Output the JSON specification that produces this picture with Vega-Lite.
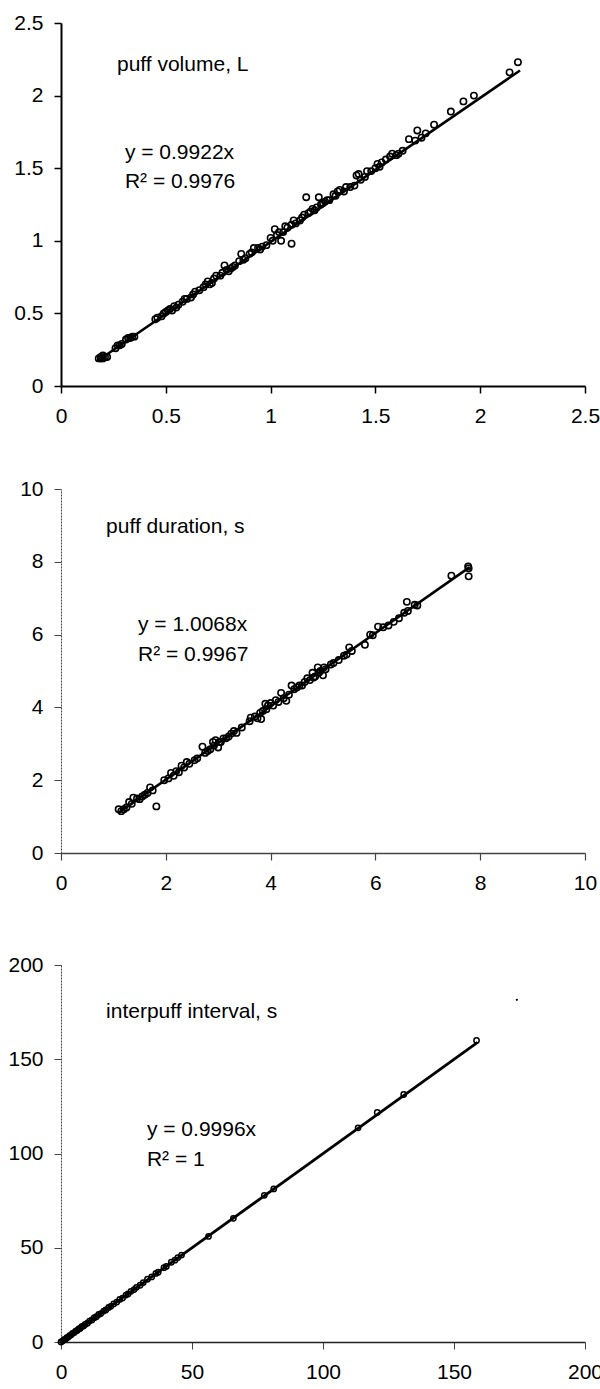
{
  "$schema": "https://vega.github.io/schema/vega-lite/v6.json",
  "background": "white",
  "padding": {"top": 12, "left": 7, "right": 0, "bottom": 5},
  "config": {
    "view": {"stroke": null},
    "font": "Liberation Sans",
    "axis": {
      "grid": false,
      "title": null,
      "format": "~r",
      "domainColor": "black",
      "domainWidth": 2,
      "tickColor": "black",
      "tickWidth": 1.5,
      "tickSize": 7,
      "labelFont": "Liberation Sans",
      "labelFontSize": 21,
      "labelColor": "black",
      "labelFlush": false,
      "labelOverlap": false,
      "labelBound": false
    },
    "axisX": {"labelPadding": 12},
    "axisY": {"labelPadding": 11},
    "text": {"font": "Liberation Sans", "fontSize": 21, "color": "black", "align": "left", "baseline": "middle"}
  },
  "bounds": "flush",
  "spacing": 103,
  "vconcat": [
    {
      "width": 524,
      "height": 363,
      "layer": [
        {
          "data": {"values": [{"x": 0.175, "y": 0.174}, {"x": 2.19, "y": 2.173}]},
          "mark": {"type": "line", "color": "black", "strokeWidth": 2.6},
          "encoding": {
            "x": {"field": "x", "type": "quantitative", "scale": {"domain": [0, 2.5], "nice": false}, "axis": {"values": [0, 0.5, 1, 1.5, 2, 2.5], "format": "~r"}},
            "y": {"field": "y", "type": "quantitative", "scale": {"domain": [0, 2.5], "nice": false}, "axis": {"values": [0, 0.5, 1, 1.5, 2, 2.5], "format": "~r"}}
          }
        },
        {
          "data": {"values": [
            {"x":0.18,"y":0.19},{"x":0.19,"y":0.19},{"x":0.2,"y":0.19},{"x":0.19,"y":0.2},{"x":0.21,"y":0.2},{"x":0.22,"y":0.2},{"x":0.2,"y":0.21},
            {"x":0.26,"y":0.26},{"x":0.27,"y":0.28},{"x":0.28,"y":0.28},{"x":0.29,"y":0.29},{"x":0.31,"y":0.32},{"x":0.32,"y":0.33},{"x":0.33,"y":0.33},{"x":0.34,"y":0.34},{"x":0.35,"y":0.34},
            {"x":0.45,"y":0.46},{"x":0.46,"y":0.47},{"x":0.48,"y":0.48},{"x":0.49,"y":0.5},{"x":0.5,"y":0.51},{"x":0.51,"y":0.52},{"x":0.52,"y":0.53},{"x":0.53,"y":0.52},{"x":0.54,"y":0.55},{"x":0.55,"y":0.54},{"x":0.56,"y":0.56},
            {"x":0.58,"y":0.58},{"x":0.59,"y":0.6},{"x":0.6,"y":0.6},{"x":0.62,"y":0.61},{"x":0.63,"y":0.63},{"x":0.64,"y":0.65},{"x":0.66,"y":0.66},{"x":0.68,"y":0.68},{"x":0.69,"y":0.7},{"x":0.7,"y":0.72},{"x":0.71,"y":0.7},{"x":0.72,"y":0.71},{"x":0.73,"y":0.74},{"x":0.74,"y":0.76},{"x":0.76,"y":0.76},{"x":0.77,"y":0.78},{"x":0.78,"y":0.83},{"x":0.79,"y":0.8},{"x":0.8,"y":0.79},{"x":0.81,"y":0.81},{"x":0.82,"y":0.82},{"x":0.83,"y":0.83},{"x":0.85,"y":0.86},{"x":0.86,"y":0.91},{"x":0.87,"y":0.87},{"x":0.88,"y":0.88},{"x":0.9,"y":0.91},{"x":0.91,"y":0.92},{"x":0.92,"y":0.95},{"x":0.94,"y":0.95},{"x":0.95,"y":0.94},{"x":0.96,"y":0.96},{"x":0.98,"y":0.97},
            {"x":1.0,"y":1.02},{"x":1.01,"y":1.0},{"x":1.02,"y":1.08},{"x":1.03,"y":1.04},{"x":1.04,"y":1.06},{"x":1.05,"y":1.0},{"x":1.06,"y":1.06},{"x":1.07,"y":1.1},{"x":1.08,"y":1.09},{"x":1.1,"y":0.98},{"x":1.1,"y":1.11},{"x":1.11,"y":1.14},{"x":1.12,"y":1.12},{"x":1.14,"y":1.14},{"x":1.15,"y":1.16},{"x":1.16,"y":1.18},{"x":1.17,"y":1.3},{"x":1.18,"y":1.19},{"x":1.19,"y":1.2},{"x":1.2,"y":1.22},{"x":1.21,"y":1.21},{"x":1.22,"y":1.23},{"x":1.23,"y":1.3},{"x":1.24,"y":1.25},{"x":1.25,"y":1.26},{"x":1.26,"y":1.27},{"x":1.27,"y":1.28},{"x":1.28,"y":1.28},{"x":1.3,"y":1.32},{"x":1.31,"y":1.31},{"x":1.32,"y":1.34},{"x":1.33,"y":1.35},{"x":1.35,"y":1.34},{"x":1.36,"y":1.37},{"x":1.38,"y":1.37},{"x":1.4,"y":1.38},{"x":1.41,"y":1.45},{"x":1.42,"y":1.46},{"x":1.43,"y":1.42},{"x":1.45,"y":1.44},{"x":1.46,"y":1.48},{"x":1.48,"y":1.48},{"x":1.5,"y":1.5},{"x":1.51,"y":1.53},{"x":1.52,"y":1.51},{"x":1.53,"y":1.54},{"x":1.55,"y":1.56},{"x":1.57,"y":1.58},{"x":1.58,"y":1.6},{"x":1.6,"y":1.59},{"x":1.61,"y":1.6},{"x":1.63,"y":1.62},{"x":1.66,"y":1.7},{"x":1.69,"y":1.69},{"x":1.7,"y":1.76},{"x":1.72,"y":1.71},{"x":1.74,"y":1.74},{"x":1.78,"y":1.8},{"x":1.86,"y":1.89},{"x":1.92,"y":1.96},{"x":1.97,"y":2.0},{"x":2.14,"y":2.16},{"x":2.18,"y":2.23}
          ]},
          "mark": {"type": "point", "shape": "circle", "filled": false, "color": "black", "strokeWidth": 1.6, "size": 40, "opacity": 1},
          "encoding": {
            "x": {"field": "x", "type": "quantitative"},
            "y": {"field": "y", "type": "quantitative"}
          }
        },
        {
          "data": {"values": [{"label": "puff volume, L"}]},
          "mark": {"type": "text"},
          "encoding": {"x": {"datum": 0.267}, "y": {"datum": 2.21}, "text": {"field": "label"}}
        },
        {
          "data": {"values": [{"label": "y = 0.9922x"}]},
          "mark": {"type": "text"},
          "encoding": {"x": {"datum": 0.305}, "y": {"datum": 1.605}, "text": {"field": "label"}}
        },
        {
          "data": {"values": [{"label": "R² = 0.9976"}]},
          "mark": {"type": "text"},
          "encoding": {"x": {"datum": 0.305}, "y": {"datum": 1.405}, "text": {"field": "label"}}
        }
      ]
    },
    {
      "bounds": "flush",
      "spacing": 112,
      "vconcat": [
        {
          "width": 524,
          "height": 364,
          "layer": [
            {
              "data": {"values": [{"x": 1.1, "y": 1.108}, {"x": 7.8, "y": 7.853}]},
              "mark": {"type": "line", "color": "black", "strokeWidth": 2.6},
              "encoding": {
                "x": {"field": "x", "type": "quantitative", "scale": {"domain": [0, 10], "nice": false}, "axis": {"values": [0, 2, 4, 6, 8, 10], "format": "~r", "domainColor": "#444", "domainWidth": 1.3, "tickColor": "#444", "tickWidth": 1.2}},
                "y": {"field": "y", "type": "quantitative", "scale": {"domain": [0, 10], "nice": false}, "axis": {"values": [0, 2, 4, 6, 8, 10], "format": "~r", "domainColor": "#444", "domainWidth": 1, "domainDash": [2, 1], "tickColor": "#444", "tickWidth": 1}}
              }
            },
            {
              "data": {"values": [
                {"x":1.1,"y":1.2},{"x":1.15,"y":1.15},{"x":1.2,"y":1.2},{"x":1.25,"y":1.25},{"x":1.3,"y":1.4},{"x":1.35,"y":1.35},{"x":1.38,"y":1.52},{"x":1.45,"y":1.5},{"x":1.5,"y":1.48},{"x":1.55,"y":1.55},{"x":1.6,"y":1.6},{"x":1.65,"y":1.65},{"x":1.7,"y":1.8},{"x":1.75,"y":1.72},{"x":1.82,"y":1.28},{"x":1.97,"y":2.0},
                {"x":2.05,"y":2.05},{"x":2.1,"y":2.2},{"x":2.15,"y":2.12},{"x":2.2,"y":2.25},{"x":2.25,"y":2.22},{"x":2.3,"y":2.4},{"x":2.35,"y":2.35},{"x":2.4,"y":2.5},{"x":2.45,"y":2.45},{"x":2.55,"y":2.55},{"x":2.6,"y":2.6},{"x":2.7,"y":2.92},{"x":2.75,"y":2.75},{"x":2.8,"y":2.8},{"x":2.85,"y":2.85},{"x":2.9,"y":3.05},{"x":2.92,"y":2.95},{"x":2.95,"y":3.1},{"x":3.0,"y":2.9},{"x":3.02,"y":3.05},{"x":3.05,"y":3.05},{"x":3.1,"y":3.15},{"x":3.15,"y":3.15},{"x":3.2,"y":3.2},{"x":3.25,"y":3.28},{"x":3.3,"y":3.35},{"x":3.35,"y":3.3},{"x":3.45,"y":3.45},
                {"x":3.6,"y":3.62},{"x":3.62,"y":3.72},{"x":3.7,"y":3.75},{"x":3.75,"y":3.7},{"x":3.8,"y":3.85},{"x":3.82,"y":3.68},{"x":3.85,"y":3.9},{"x":3.9,"y":4.1},{"x":3.92,"y":3.95},{"x":3.95,"y":4.05},{"x":4.0,"y":4.12},{"x":4.05,"y":4.05},{"x":4.1,"y":4.2},{"x":4.15,"y":4.15},{"x":4.2,"y":4.4},{"x":4.25,"y":4.25},{"x":4.3,"y":4.18},{"x":4.35,"y":4.35},{"x":4.4,"y":4.6},{"x":4.45,"y":4.5},{"x":4.5,"y":4.55},{"x":4.55,"y":4.6},{"x":4.6,"y":4.6},{"x":4.65,"y":4.7},{"x":4.7,"y":4.8},{"x":4.75,"y":4.75},{"x":4.8,"y":4.95},{"x":4.82,"y":4.82},{"x":4.85,"y":4.85},{"x":4.9,"y":5.1},{"x":4.92,"y":4.95},{"x":4.95,"y":5.0},{"x":5.0,"y":4.88},{"x":5.02,"y":5.1},{"x":5.05,"y":5.05},
                {"x":5.15,"y":5.18},{"x":5.2,"y":5.22},{"x":5.3,"y":5.3},{"x":5.4,"y":5.42},{"x":5.45,"y":5.45},{"x":5.5,"y":5.65},{"x":5.55,"y":5.55},{"x":5.8,"y":5.72},{"x":5.9,"y":6.0},{"x":5.95,"y":5.98},{"x":6.05,"y":6.22},{"x":6.15,"y":6.2},{"x":6.25,"y":6.25},{"x":6.35,"y":6.35},{"x":6.45,"y":6.45},{"x":6.55,"y":6.6},{"x":6.6,"y":6.9},{"x":6.62,"y":6.65},{"x":6.75,"y":6.82},{"x":6.8,"y":6.8},{"x":7.45,"y":7.62},{"x":7.78,"y":7.6},{"x":7.78,"y":7.82},{"x":7.77,"y":7.87}
              ]},
              "mark": {"type": "point", "shape": "circle", "filled": false, "color": "black", "strokeWidth": 1.6, "size": 40, "opacity": 1},
              "encoding": {
                "x": {"field": "x", "type": "quantitative"},
                "y": {"field": "y", "type": "quantitative"}
              }
            },
            {
              "data": {"values": [{"label": "puff duration, s"}]},
              "mark": {"type": "text"},
              "encoding": {"x": {"datum": 0.86}, "y": {"datum": 8.96}, "text": {"field": "label"}}
            },
            {
              "data": {"values": [{"label": "y = 1.0068x"}]},
              "mark": {"type": "text"},
              "encoding": {"x": {"datum": 1.47}, "y": {"datum": 6.26}, "text": {"field": "label"}}
            },
            {
              "data": {"values": [{"label": "R² = 0.9967"}]},
              "mark": {"type": "text"},
              "encoding": {"x": {"datum": 1.47}, "y": {"datum": 5.44}, "text": {"field": "label"}}
            }
          ]
        },
        {
          "width": 524,
          "height": 377,
          "layer": [
            {
              "data": {"values": [{"x": 0, "y": 0}, {"x": 159, "y": 158.9}]},
              "mark": {"type": "line", "color": "black", "strokeWidth": 2.8},
              "encoding": {
                "x": {"field": "x", "type": "quantitative", "scale": {"domain": [0, 200], "nice": false}, "axis": {"values": [0, 50, 100, 150, 200], "format": "~r", "domainColor": "#222", "domainWidth": 1.6, "tickColor": "#444", "tickWidth": 1}},
                "y": {"field": "y", "type": "quantitative", "scale": {"domain": [0, 200], "nice": false}, "axis": {"values": [0, 50, 100, 150, 200], "format": "~r", "domainColor": "#444", "domainWidth": 1, "domainDash": [2, 1], "tickColor": "#444", "tickWidth": 1}}
              }
            },
            {
              "data": {"values": [
                {"x":0,"y":0},{"x":0.6,"y":0.5},{"x":1.1,"y":1.2},{"x":1.7,"y":1.5},{"x":2.2,"y":2.3},{"x":2.8,"y":2.6},{"x":3.3,"y":3.4},{"x":3.9,"y":3.8},{"x":4.4,"y":4.6},{"x":5.1,"y":5.0},{"x":5.6,"y":5.8},{"x":6.2,"y":6.1},{"x":6.8,"y":7.0},{"x":7.3,"y":7.2},{"x":7.9,"y":8.1},{"x":8.6,"y":8.5},{"x":9.2,"y":9.3},{"x":10.1,"y":10.0},{"x":10.9,"y":11.1},{"x":11.8,"y":11.7},{"x":12.7,"y":12.9},{"x":13.5,"y":13.4},{"x":14.4,"y":14.6},{"x":15.2,"y":15.1},{"x":16.3,"y":16.4},{"x":17.1,"y":17.0},{"x":18.2,"y":18.3},{"x":19.0,"y":18.9},{"x":20.1,"y":20.2},{"x":21.3,"y":21.2},{"x":22.4,"y":22.6},{"x":23.5,"y":23.3},{"x":24.8,"y":24.9},{"x":25.6,"y":25.5},{"x":26.7,"y":26.9},{"x":27.9,"y":27.8},{"x":28.8,"y":29.0},{"x":30.2,"y":30.1},{"x":31.4,"y":31.5},{"x":33.0,"y":33.3},{"x":34.6,"y":34.5},{"x":36.2,"y":36.4},{"x":37.1,"y":37.0},{"x":39.3,"y":39.4},{"x":40.2,"y":40.1},{"x":42.1,"y":42.3},{"x":43.5,"y":43.4},{"x":44.6,"y":44.8},{"x":46.0,"y":46.1},
                {"x":56.3,"y":56.0},{"x":65.8,"y":65.6},{"x":77.6,"y":77.8},{"x":81.2,"y":81.2},{"x":113.4,"y":113.6},{"x":120.7,"y":121.8},{"x":130.8,"y":131.3},{"x":158.6,"y":160.0}
              ]},
              "mark": {"type": "point", "shape": "circle", "filled": false, "color": "black", "strokeWidth": 1.5, "size": 28, "opacity": 1},
              "encoding": {
                "x": {"field": "x", "type": "quantitative"},
                "y": {"field": "y", "type": "quantitative"}
              }
            },
            {
              "data": {"values": [{"x": 174, "y": 181.5}]},
              "mark": {"type": "point", "shape": "circle", "filled": true, "color": "black", "size": 5, "opacity": 1},
              "encoding": {
                "x": {"field": "x", "type": "quantitative"},
                "y": {"field": "y", "type": "quantitative"}
              }
            },
            {
              "data": {"values": [{"label": "interpuff interval, s"}]},
              "mark": {"type": "text"},
              "encoding": {"x": {"datum": 17.2}, "y": {"datum": 175}, "text": {"field": "label"}}
            },
            {
              "data": {"values": [{"label": "y = 0.9996x"}]},
              "mark": {"type": "text"},
              "encoding": {"x": {"datum": 32.8}, "y": {"datum": 112.5}, "text": {"field": "label"}}
            },
            {
              "data": {"values": [{"label": "R² = 1"}]},
              "mark": {"type": "text"},
              "encoding": {"x": {"datum": 32.8}, "y": {"datum": 96.5}, "text": {"field": "label"}}
            }
          ]
        }
      ]
    }
  ]
}
